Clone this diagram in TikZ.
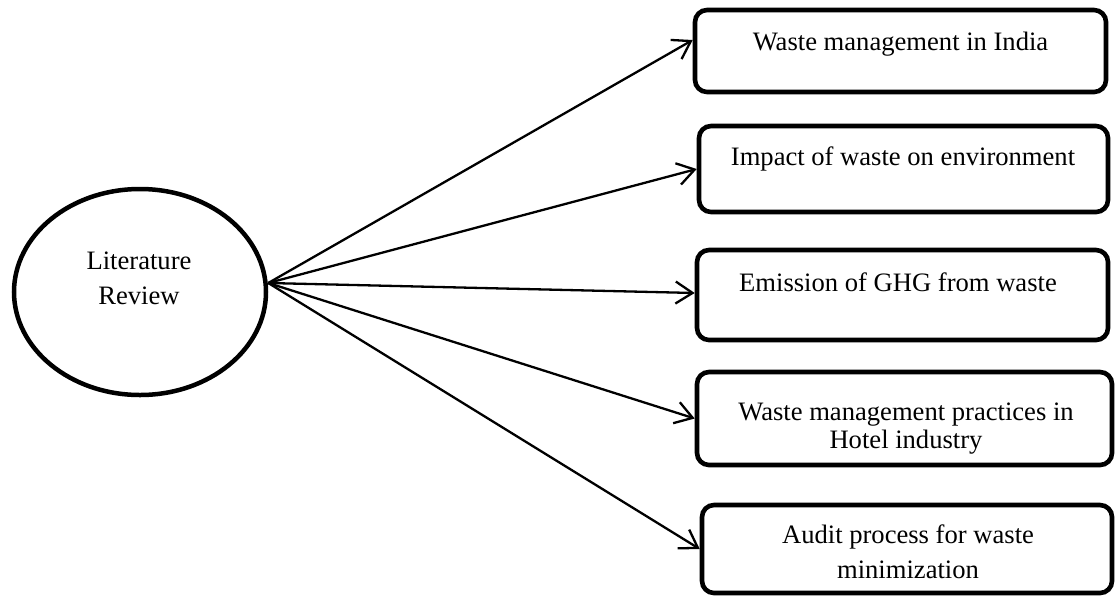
\documentclass[tikz,border=0pt]{standalone}
\usepackage{fontspec}
\setmainfont{Liberation Serif}
\usetikzlibrary{shapes.geometric,arrows.meta}
\begin{document}
\begin{tikzpicture}[x=1pt,y=-1pt,
  box/.style={draw,line width=4.6pt,rounded corners=12pt,inner sep=0pt},
  lbl/.style={font=\fontsize{26.6}{31}\selectfont,align=center,inner sep=0pt,anchor=base},
  link/.style={line width=2.3pt,-{Straight Barb[length=17pt,width=22pt,line width=2.3pt]}}]
\useasboundingbox (0,0) rectangle (1115,595);
\node[ellipse,draw,line width=4.5pt,minimum width=252pt,minimum height=206pt,inner sep=0pt] (lr) at (140,292) {};
\node[lbl] (lrt) at (139,304) {Literature\\[4pt]Review};
\coordinate (hub) at ([yshift=9pt]lr.east);

\node[box,minimum width=411pt,minimum height=82pt] (b1) at (900.5,51) {};
\node[box,minimum width=409pt,minimum height=86pt] (b2) at (903.5,169) {};
\node[box,minimum width=411pt,minimum height=90pt] (b3) at (902.5,295) {};
\node[box,minimum width=415pt,minimum height=93pt] (b4) at (904.5,418.5) {};
\node[box,minimum width=410pt,minimum height=88pt] (b5) at (907,549) {};

\node[lbl] (t1) at (900.5,50) {Waste management in India};
\node[lbl] (t2) at (903,165) {Impact of waste on environment};
\node[lbl] (t3) at (898,291) {Emission of GHG from waste};
\node[lbl] (t4) at (906,448) {Waste management practices in\\[-3pt]Hotel industry};
\node[lbl] (t5) at (908,578) {Audit process for waste\\[4pt]minimization};

\draw[link] (hub) -- ([yshift=11pt]b1.west);
\draw[link] (hub) -- (b2.west);
\draw[link] (hub) -- ([yshift=2pt]b3.west);
\draw[link] (hub) -- (b4.west);
\draw[link] (hub) -- (b5.west);
\end{tikzpicture}
\end{document}
